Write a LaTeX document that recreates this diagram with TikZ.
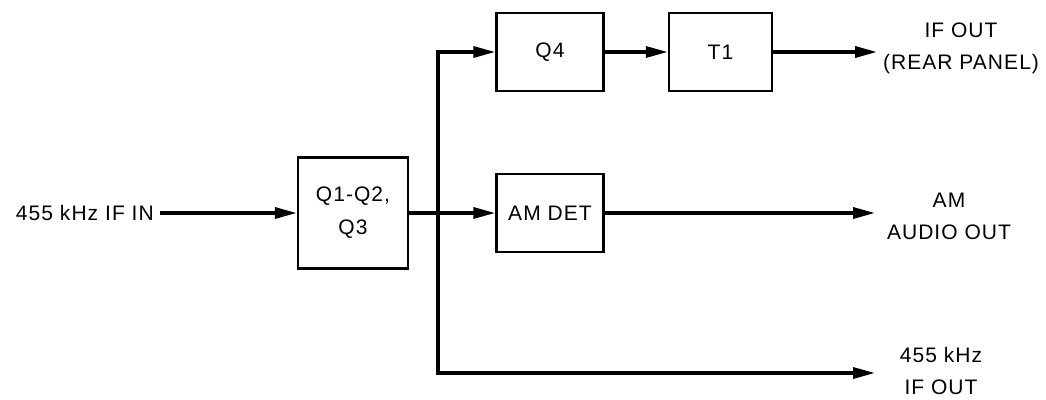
\documentclass[tikz,border=0pt]{standalone}
\usepackage{fontspec}
\setmainfont[LetterSpace=5]{Liberation Sans}
\usetikzlibrary{arrows.meta,positioning}

\begin{document}
\begin{tikzpicture}[x=1pt,y=-1pt,
    blk/.style={draw,line width=2.4pt,inner sep=0pt,minimum width=107pt,minimum height=78pt,align=center,font=\fontsize{21}{33}\selectfont},
    lbl/.style={align=center,inner sep=0pt,font=\fontsize{21}{32}\selectfont},
    sig/.style={line width=3.4pt,-{Triangle[length=22pt,width=11pt]}}]
    \useasboundingbox (0,0) rectangle (1046,399);

    % blocks
    \node[blk,minimum width=110pt,minimum height=111pt] (q1q3) at (353,213) {Q1-Q2,\\Q3};
    \node[blk] (q4) at (550,52) {Q4};
    \node[blk,minimum width=103pt] (t1) at (720.5,52) {T1};
    \node[blk] (amdet) at (550,213) {AM DET};

    % texts
    \node[lbl,anchor=east] (ifin) at (154,213) {455 kHz IF IN};
    \node[lbl] (ifrear) at (961,48) {IF OUT\\(REAR PANEL)};
    \node[lbl] (amout) at (949,216) {AM\\AUDIO OUT};
    \node[lbl] (ifout) at (941,371) {455 kHz\\IF OUT};

    \coordinate (tap) at (438,213);
    \coordinate (o1) at (877,52);
    \coordinate (o2) at (875,213);
    \coordinate (o3) at (875,373);

    % connections
    \draw[sig] ([xshift=6pt]ifin.east) -- (q1q3.west);
    \draw[sig] (q1q3.east) -- (amdet.west);
    \draw[sig] (tap) |- (q4.west);
    \draw[sig] (tap) |- (o3);
    \draw[sig] (q4.east) -- (t1.west);
    \draw[sig] (t1.east) -- (o1);
    \draw[sig] (amdet.east) -- (o2);
\end{tikzpicture}
\end{document}
